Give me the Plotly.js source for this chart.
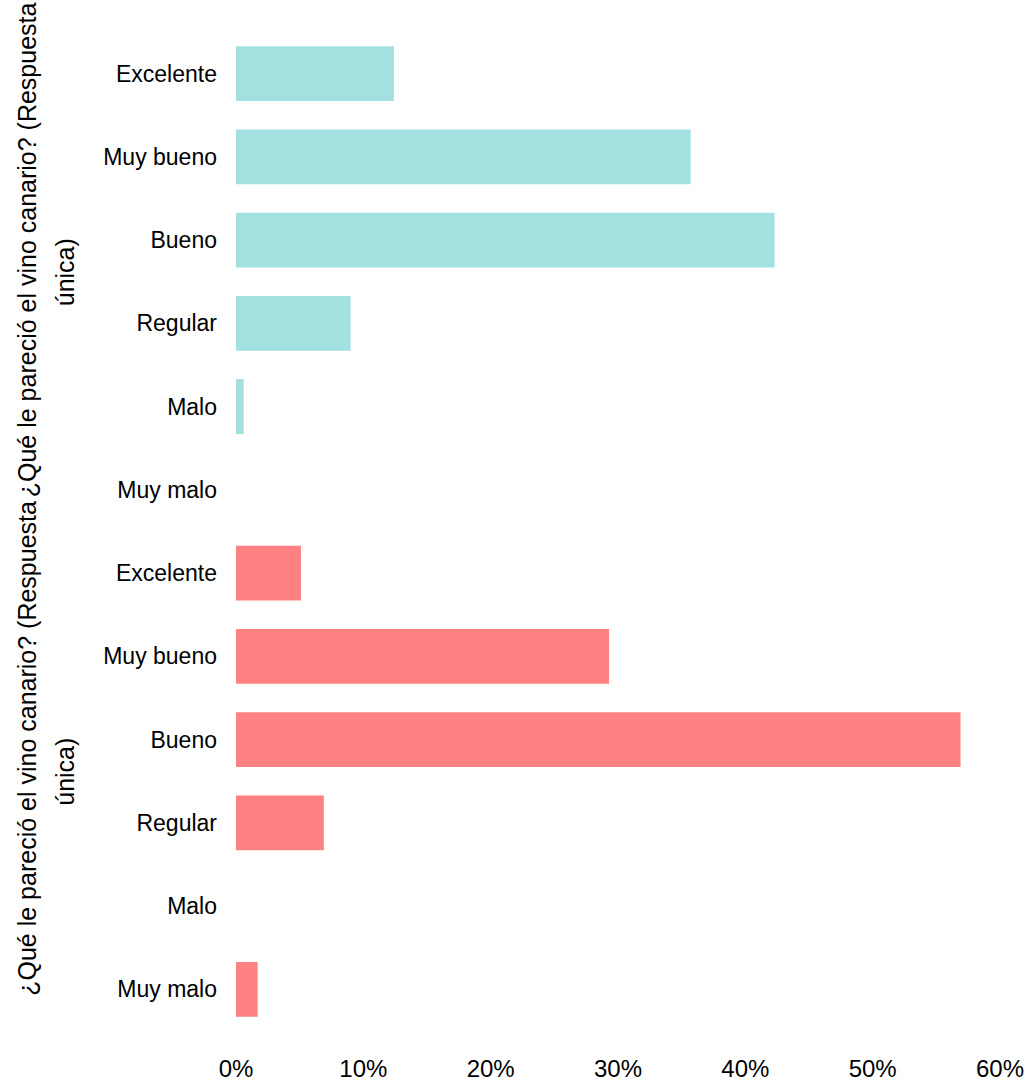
<!DOCTYPE html>
<html>
<head>
<meta charset="utf-8">
<script src="https://cdn.plot.ly/plotly-3.0.1.min.js"></script>
<style>
html, body { margin: 0; padding: 0; background: #ffffff; }
#chart { width: 1033px; height: 1089px; }
</style>
</head>
<body>
<div id="chart"></div>
<script>
// ---- data ----
var categories = ['Excelente', 'Muy bueno', 'Bueno', 'Regular', 'Malo', 'Muy malo'];
var valuesTop = [12.4, 35.7, 42.3, 9.0, 0.6, 0];
var valuesBottom = [5.1, 29.3, 56.9, 6.9, 0, 1.7];
var xTickVals = [0, 10, 20, 30, 40, 50, 60];
var xTickText = ['0%', '10%', '20%', '30%', '40%', '50%', '60%'];
var titleLine1 = '¿Qué le pareció el vino canario? (Respuesta';
var titleLine2 = 'única)';

// ---- layout helpers (pixel -> paper) ----
var W = 1033, H = 1089;
var M = { l: 236, r: 33, t: 31.5, b: 57.5 };
function px(x) { return (x - M.l) / (W - M.l - M.r); }
function py(y) { return 1 - (y - M.t) / (H - M.t - M.b); }

var fontFam = 'Liberation Sans, Arial, sans-serif';

var traces = [
  {
    type: 'bar', orientation: 'h',
    y: categories, x: valuesTop,
    xaxis: 'x', yaxis: 'y',
    marker: { color: '#a3e0e0' },
    hoverinfo: 'x+y', showlegend: false
  },
  {
    type: 'bar', orientation: 'h',
    y: categories, x: valuesBottom,
    xaxis: 'x', yaxis: 'y2',
    marker: { color: '#ff8282' },
    hoverinfo: 'x+y', showlegend: false
  }
];

function titleAnn(text, xPix, yPix) {
  return {
    text: text, xref: 'paper', yref: 'paper',
    x: px(xPix), y: py(yPix), xanchor: 'center', yanchor: 'middle',
    textangle: -90, showarrow: false,
    font: { family: fontFam, size: 25, color: '#000000' }
  };
}

var layout = {
  width: W, height: H,
  margin: M,
  paper_bgcolor: '#ffffff', plot_bgcolor: '#ffffff',
  bargap: 0.34,
  font: { family: fontFam, color: '#000000' },
  xaxis: {
    anchor: 'y2', domain: [0, 1],
    range: [0, 60], tickvals: xTickVals, ticktext: xTickText,
    showgrid: false, zeroline: false, showline: false, ticks: '',
    ticklabelstandoff: 21,
    tickfont: { family: fontFam, size: 24, color: '#000000' }
  },
  yaxis: {
    domain: [0.5, 1], anchor: 'x',
    type: 'category', categoryorder: 'array', categoryarray: categories,
    autorange: 'reversed',
    showgrid: false, zeroline: false, showline: false, ticks: '',
    ticklabelstandoff: 18,
    tickfont: { family: fontFam, size: 23, color: '#000000' }
  },
  yaxis2: {
    domain: [0, 0.5], anchor: 'x',
    type: 'category', categoryorder: 'array', categoryarray: categories,
    autorange: 'reversed',
    showgrid: false, zeroline: false, showline: false, ticks: '',
    ticklabelstandoff: 18,
    tickfont: { family: fontFam, size: 23, color: '#000000' }
  },
  annotations: [
    titleAnn(titleLine1, 27, 250),
    titleAnn(titleLine2, 65, 272),
    titleAnn(titleLine1, 27, 749),
    titleAnn(titleLine2, 65, 772)
  ]
};

Plotly.newPlot('chart', traces, layout, { displayModeBar: false, staticPlot: true });
</script>
</body>
</html>
